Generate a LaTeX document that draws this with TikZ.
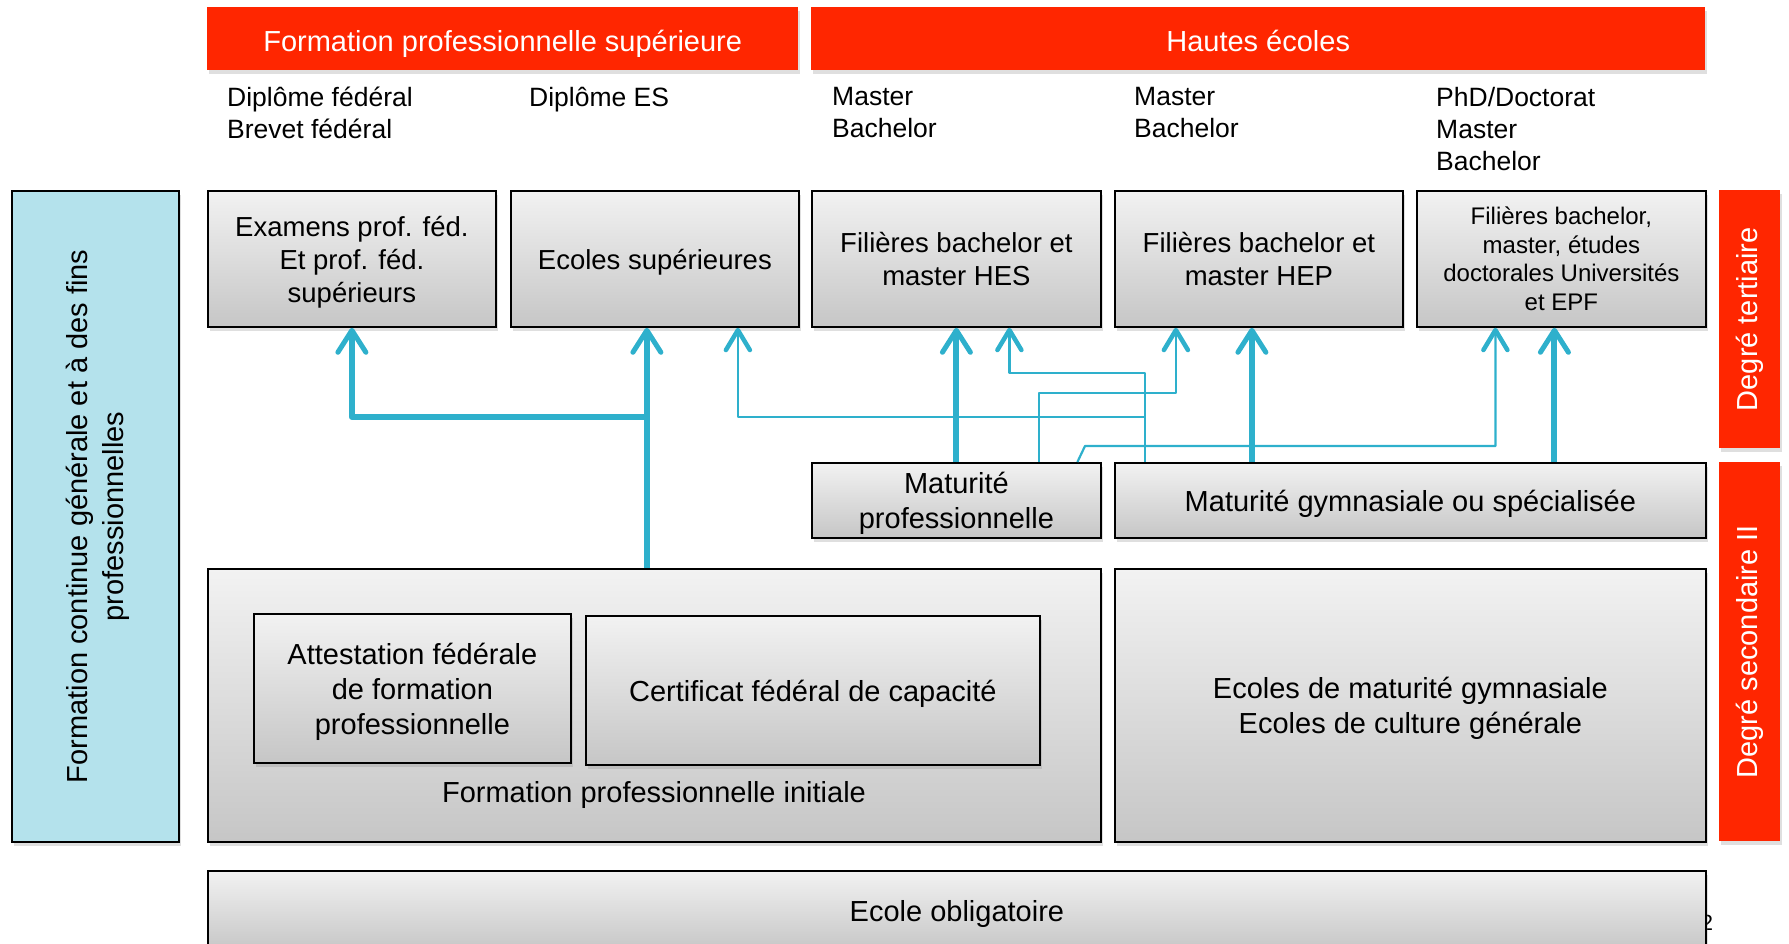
\documentclass[tikz,border=0pt]{standalone}
\usepackage{fontspec}
\setmainfont{Liberation Sans}
\usetikzlibrary{arrows.meta,shadows}

\definecolor{hdrred}{RGB}{255,38,0}
\definecolor{flowblue}{RGB}{46,176,204}
\definecolor{cyanbox}{RGB}{180,226,236}
\definecolor{boxtop}{RGB}{242,242,242}
\definecolor{boxbot}{RGB}{198,198,198}

\tikzset{
  soft shadow/.style={drop shadow={shadow xshift=2pt, shadow yshift=-4pt, opacity=.25}},
  cell/.style={draw=black, line width=1.8pt, top color=boxtop, bottom color=boxbot,
    soft shadow, anchor=north west, inner sep=0pt, align=center, text depth=0pt,
    font=\fontsize{29}{35}\selectfont},
  upper cell/.style={cell, minimum height=136pt, font=\fontsize{27.5}{33}\selectfont},
  banner/.style={fill=hdrred, text=white, anchor=north west, inner sep=0pt,
    text height=30pt, text depth=4pt, soft shadow, font=\fontsize{29}{34}\selectfont},
  degree/.style={fill=hdrred, anchor=north west, inner sep=0pt, soft shadow},
  side/.style={draw=black, line width=1.8pt, fill=cyanbox, anchor=north west, soft shadow},
  vtext/.style={rotate=90, align=center, font=\fontsize{29}{36}\selectfont},
  title/.style={anchor=north west, align=left, inner sep=0pt, font=\fontsize{26.5}{32}\selectfont},
  fat/.style={draw=flowblue, line width=6pt, line join=round,
    -{Straight Barb[length=22pt,width=28pt,line width=5pt,round]}},
  slim/.style={draw=flowblue, line width=2.2pt, line join=round,
    -{Straight Barb[length=20pt,width=24pt,line width=4.5pt,round]}}
}

\begin{document}
\begin{tikzpicture}[x=1pt, y=-1pt]
	\useasboundingbox (0,0) rectangle (1789,943);
	% headers
	\node[banner, minimum width=591pt, minimum height=63pt] (fps) at (207,7) {Formation professionnelle supérieure};
	\node[banner, minimum width=894pt, minimum height=63pt] (he) at (811,7) {Hautes écoles};
	% diplomas
	\node[title] (dipfed) at (227,87) {Diplôme fédéral\\Brevet fédéral};
	\node[title] (dipes) at (529,87) {Diplôme ES};
	\node[title] (diphes) at (832,87) {Master\\Bachelor};
	\node[title] (diphep) at (1134,87) {Master\\Bachelor};
	\node[title] (dipuni) at (1436,87) {PhD/Doctorat\\Master\\Bachelor};
	% tertiary
	\node[upper cell, minimum width=288pt] (exam) at (207,190) {Examens prof. féd.\\Et prof. féd.\\supérieurs};
	\node[upper cell, minimum width=288pt] (ecsup) at (510,190) {Ecoles supérieures};
	\node[upper cell, minimum width=289pt] (hes) at (811,190) {Filières bachelor et\\master HES};
	\node[upper cell, minimum width=288pt] (hep) at (1114,190) {Filières bachelor et\\master HEP};
	\node[upper cell, minimum width=289pt, font=\fontsize{24}{28.5}\selectfont] (uni) at (1416,190) {Filières bachelor,\\master, études\\doctorales Universités\\et EPF};
	% side and degrees
	\node[side, minimum width=167pt, minimum height=651pt] (fcont) at (11,190) {};
	\node[vtext] at ([xshift=2pt]fcont.center) {Formation continue générale et à des fins\\professionnelles};
	\node[degree, minimum width=61pt, minimum height=258pt] (tert) at (1719,190) {};
	\node[vtext, text=white] at (tert.center) {Degré tertiaire};
	\node[degree, minimum width=61pt, minimum height=379pt] (secII) at (1719,462) {};
	\node[vtext, text=white] at (secII.center) {Degré secondaire II};
	% secondary II
	\node[cell, minimum width=289pt, minimum height=75pt] (matpro) at (811,462) {Maturité\\professionnelle};
	\node[cell, minimum width=591pt, minimum height=75pt] (matgym) at (1114,462) {Maturité gymnasiale ou spécialisée};
	\node[cell, minimum width=893pt, minimum height=273pt] (fpi) at (207,568) {};
	\node[cell, minimum width=317pt, minimum height=149pt] (att) at (253,613) {Attestation fédérale\\de formation\\professionnelle};
	\node[cell, minimum width=454pt, minimum height=149pt] (cfc) at (585,615) {Certificat fédéral de capacité};
	\node[font=\fontsize{29}{34}\selectfont, text depth=0pt] (fpilabel) at (654,792) {Formation professionnelle initiale};
	\node[cell, minimum width=591pt, minimum height=273pt] (emg) at (1114,568) {Ecoles de maturité gymnasiale\\Ecoles de culture générale};
	% compulsory school
	\node[font=\fontsize{22}{26}\selectfont] (pagenum) at (1707,923) {2};
	\node[cell, minimum width=1498pt, minimum height=80pt] (oblig) at (207,870) {Ecole obligatoire};
	% thick paths
	\coordinate (j1) at (646,417);
	\draw[fat] ([xshift=-8pt]ecsup.south |- fpi.north) -- ([xshift=-8pt]ecsup.south);
	\draw[fat] (j1) -| (exam.south);
	\draw[fat] (matpro.north) -- (hes.south);
	\draw[fat] ([xshift=-7pt]hep.south |- matgym.north) -- ([xshift=-7pt]hep.south);
	\draw[fat] ([xshift=-7pt]uni.south |- matgym.north) -- ([xshift=-7pt]uni.south);
	% thin paths
	\coordinate (k1) at (1145,373);
	\coordinate (k2) at (1145,417);
	\coordinate (k3) at (1039,393);
	\coordinate (k4) at (1085,446);
	\draw[slim] (matgym.north -| k1) -- (k1) -| ([xshift=53pt]hes.south);
	\draw[slim] (k2) -| ([xshift=83pt]ecsup.south);
	\draw[slim] (matpro.north -| k3) -- (k3) -| ([xshift=-83pt]hep.south);
	\draw[slim] ([xshift=121pt]matpro.north) -- (k4) -| ([xshift=-66pt]uni.south);
\end{tikzpicture}
\end{document}
